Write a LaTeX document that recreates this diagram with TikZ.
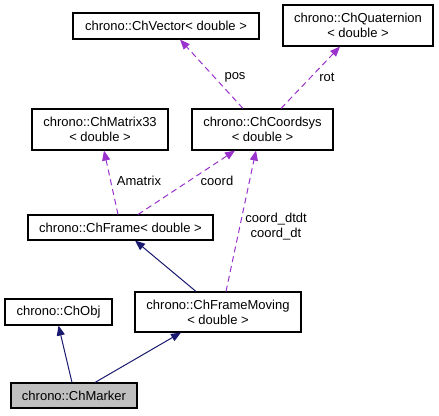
\documentclass[tikz,border=0pt]{standalone}
\usepackage{fontspec}
\setmainfont{Liberation Sans}
\usetikzlibrary{arrows.meta,calc}
\definecolor{navyc}{HTML}{191970}
\definecolor{purpc}{HTML}{9A32CD}
\definecolor{boxc}{HTML}{000000}
\definecolor{grayfill}{HTML}{BFBFBF}
\begin{document}
\begin{tikzpicture}[x=0.75pt,y=-0.75pt,
  box/.style={draw=boxc,line width=0.8pt,fill=white,inner sep=0pt,align=center,
    font=\fontsize{9.75pt}{11.25pt}\selectfont},
  inh/.style={draw=navyc,line width=0.75pt,-{Triangle[length=7.5pt,width=6pt]}},
  use/.style={draw=purpc,line width=0.75pt,dash pattern=on 4.5pt off 3pt,-{Triangle[length=7.5pt,width=6pt]}},
  lbl/.style={inner sep=0pt,align=center,font=\fontsize{9.75pt}{11.25pt}\selectfont}]
\useasboundingbox[fill=white] (0,0) rectangle (439,415);
\node[box,minimum width=139.5pt,minimum height=19.5pt] (cv) at (166,26) {chrono::ChVector\textless{} double \textgreater};
\node[box,minimum width=112.5pt,minimum height=30.75pt] (cq) at (358,25.5) {chrono::ChQuaternion\\\textless{} double \textgreater};
\node[box,minimum width=102pt,minimum height=30.75pt] (m33) at (100,129.5) {chrono::ChMatrix33\\\textless{} double \textgreater};
\node[box,minimum width=105.75pt,minimum height=30.75pt] (cs) at (262.5,129.5) {chrono::ChCoordsys\\\textless{} double \textgreater};
\node[box,minimum width=138.75pt,minimum height=18.75pt] (fr) at (120.5,227.5) {chrono::ChFrame\textless{} double \textgreater};
\node[box,minimum width=124.5pt,minimum height=30pt] (fm) at (218,312) {chrono::ChFrameMoving\\\textless{} double \textgreater};
\node[box,minimum width=80.25pt,minimum height=19.5pt] (obj) at (58.5,312) {chrono::ChObj};
\node[box,fill=grayfill,minimum width=94.5pt,minimum height=18.75pt] (mk) at (74,395.5) {chrono::ChMarker};
\draw[use] ($(cs.north)+(-19.5,0)$) -- ($(cv.south)+(14,0)$);
\draw[use] ($(cs.north)+(18.5,0)$) -- ($(cq.south)+(-18,0)$);
\draw[use] ($(fr.north)+(-2.5,0)$) -- ($(m33.south)+(4,0)$);
\draw[use] ($(fr.north)+(17.5,0)$) -- ($(cs.south)+(-27.5,0)$);
\draw[use] ($(fm.north)+(8,0)$) -- ($(cs.south)+(-6.5,0)$);
\draw[inh] ($(fm.north)+(-22,0)$) -- ($(fr.south)+(14.5,0)$);
\draw[inh] ($(mk.north)+(-2,0)$) -- ($(obj.south)+(0,0)$);
\draw[inh] ($(mk.north)+(21,0)$) -- ($(fm.south)+(-37,0)$);
\node[lbl] (lpos) at (235,77) {pos};
\node[lbl] (lrot) at (327,77) {rot};
\node[lbl] (lam) at (139,181) {Amatrix};
\node[lbl] (lco) at (217,181) {coord};
\node[lbl] (ldt) at (276,227) {coord\_dtdt\\coord\_dt};
\end{tikzpicture}
\end{document}
